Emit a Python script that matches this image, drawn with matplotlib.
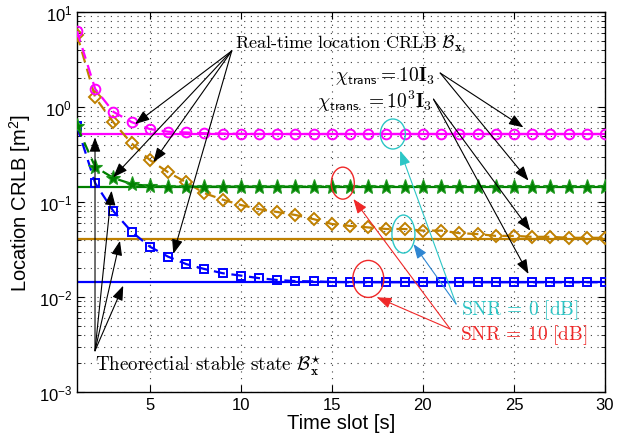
import numpy as np
import matplotlib
matplotlib.use("Agg")
import matplotlib.pyplot as plt
from matplotlib.patches import Ellipse
from matplotlib.transforms import ScaledTranslation

plt.rcParams["font.family"] = ["Liberation Sans", "DejaVu Sans"]
plt.rcParams["mathtext.fontset"] = "custom"
plt.rcParams["mathtext.rm"] = "Liberation Sans"
plt.rcParams["mathtext.it"] = "Liberation Sans:italic"
plt.rcParams["mathtext.bf"] = "Liberation Sans:bold"
plt.rcParams["mathtext.sf"] = "Liberation Sans"

# ---- data -------------------------------------------------------------
time_slot = np.arange(1, 31)

# chi_trans = 10 I_3, SNR = 0 dB
crlb_chi10_snr0 = [6.3, 1.55, 0.89, 0.695, 0.586, 0.55, 0.54, 0.53, 0.525, 0.522,
                   0.52, 0.52, 0.52, 0.52, 0.52, 0.52, 0.52, 0.52, 0.52, 0.52,
                   0.52, 0.52, 0.52, 0.52, 0.52, 0.52, 0.52, 0.52, 0.52, 0.52]
# chi_trans = 10^3 I_3, SNR = 0 dB
crlb_chi1000_snr0 = [5.8, 1.26, 0.69, 0.415, 0.277, 0.206, 0.161, 0.124, 0.106, 0.093,
                     0.084, 0.0785, 0.073, 0.066, 0.0587, 0.056, 0.054, 0.052, 0.052, 0.050,
                     0.050, 0.047, 0.046, 0.044, 0.044, 0.043, 0.043, 0.042, 0.042, 0.042]
# chi_trans = 10 I_3, SNR = 10 dB
crlb_chi10_snr10 = [0.63, 0.234, 0.179, 0.155, 0.147, 0.145, 0.145, 0.145, 0.145, 0.145,
                    0.145, 0.145, 0.145, 0.145, 0.145, 0.145, 0.145, 0.145, 0.145, 0.145,
                    0.145, 0.145, 0.145, 0.145, 0.145, 0.145, 0.145, 0.145, 0.145, 0.145]
# chi_trans = 10^3 I_3, SNR = 10 dB
crlb_chi1000_snr10 = [0.63, 0.158, 0.080, 0.0487, 0.0339, 0.0266, 0.0222, 0.0197, 0.0178, 0.0168,
                      0.0158, 0.0151, 0.0147, 0.0146, 0.0144, 0.0143, 0.0143, 0.0143, 0.0143, 0.0143,
                      0.0143, 0.0143, 0.0143, 0.0143, 0.0143, 0.0143, 0.0143, 0.0143, 0.0143, 0.0143]

# theoretical stable states
stable_chi10_snr0 = 0.52
stable_chi1000_snr0 = 0.041
stable_chi10_snr10 = 0.145
stable_chi1000_snr10 = 0.0143

x_ticks = [5, 10, 15, 20, 25, 30]
y_ticks = [1e-3, 1e-2, 1e-1, 1e0, 1e1]

# ---- colours ----------------------------------------------------------
c_mag = "#FF00FF"
c_brown = "#BF8000"
c_green = "#008000"
c_blue = "#0000FF"
c_cyan = "#2CC6C6"
c_steel = "#2F86D2"
c_red = "#F02828"

fig = plt.figure(figsize=(6.29, 4.35), dpi=100)
ax = fig.add_axes([0.1224, 0.0966, 0.8394, 0.8734])
ax.set_yscale("log")

dash = (0, (5, 3))
lw = 1.6

# theoretical stable-state lines
for val, col in [(stable_chi1000_snr10, c_blue), (stable_chi10_snr10, c_green),
                 (stable_chi1000_snr0, c_brown), (stable_chi10_snr0, c_mag)]:
    ax.plot([time_slot[0], time_slot[-1]], [val, val], color=col, lw=lw, zorder=2)

# real-time CRLB curves
ax.plot(time_slot, crlb_chi1000_snr10, linestyle=dash, color=c_blue, lw=lw,
        marker="s", ms=5.5, mfc="none", mec=c_blue, mew=1.4, zorder=3)
ax.plot(time_slot, crlb_chi10_snr10, linestyle=dash, color=c_green, lw=lw,
        marker="*", ms=11, mfc=c_green, mec="#1f9a1f", mew=0.8, zorder=4)
ax.plot(time_slot, crlb_chi1000_snr0, linestyle=dash, color=c_brown, lw=lw,
        marker="D", ms=6.2, mfc="none", mec=c_brown, mew=1.4, zorder=3)
ax.plot(time_slot, crlb_chi10_snr0, linestyle=dash, color=c_mag, lw=lw,
        marker="o", ms=7, mfc="none", mec=c_mag, mew=1.4, zorder=5)

ax.set_xlim(1, 30)
ax.set_ylim(1e-3, 1e1)
ax.set_xticks(x_ticks)
ax.set_yticks(y_ticks)
ax.tick_params(which="both", direction="in", top=True, right=True, labelsize=12)
ax.tick_params(which="major", length=5, width=0.8)
ax.tick_params(which="minor", length=3, width=0.6)
ax.tick_params(axis="x", which="minor", bottom=False, top=False)
for s in ax.spines.values():
    s.set_linewidth(1.0)

grid_ls = (0, (1, 5))
ax.grid(True, which="major", axis="x", color="0.25", linestyle=grid_ls, lw=0.8)
ax.grid(True, which="both", axis="y", color="0.25", linestyle=grid_ls, lw=0.8)
ax.set_axisbelow(True)

ax.set_xlabel("Time slot [s]", fontsize=14.5, labelpad=1)
ax.set_ylabel("Location CRLB [m$^2$]", fontsize=14.5, labelpad=4)

# ---- annotations ------------------------------------------------------
tkw = dict(fontfamily="cmr10", math_fontfamily="cm")


def arrow(tip, tail, color="k", lw=0.8):
    ax.annotate("", xy=tip, xytext=tail,
                arrowprops=dict(arrowstyle="-|>,head_length=0.8,head_width=0.3",
                                color=color, lw=lw, shrinkA=0, shrinkB=0,
                                mutation_scale=11), zorder=6)


ax.text(9.7, 4.6, r"Real-time location CRLB $\mathcal{B}_{\mathbf{x}_t}$",
        va="center", ha="left", fontsize=13, **tkw)
for tip in [(4.19, 0.662), (5.19, 0.262), (2.99, 0.182), (6.29, 0.0284)]:
    arrow(tip, (9.5, 3.9))

ax.text(2.0, 0.00195, r"Theorectial stable state $\mathcal{B}^{\star}_{\mathbf{x}}$",
        va="center", ha="left", fontsize=13.7, **tkw)
for tip in [(1.99, 0.48), (2.9, 0.1315), (3.36, 0.039), (3.54, 0.01315)]:
    arrow(tip, (1.99, 0.00272))

ax.text(20.67, 2.17, r"$\chi_{\mathsf{trans}} = 10\mathbf{I}_3$",
        va="center", ha="right", fontsize=14, **tkw)
ax.text(20.5, 1.185, r"$\chi_{\mathsf{trans.}} = 10^3\mathbf{I}_3$",
        va="center", ha="right", fontsize=14, **tkw)
for tip in [(25.52, 0.611), (25.8, 0.168)]:
    arrow(tip, (20.95, 2.28))
for tip in [(25.9, 0.0499), (25.8, 0.01746)]:
    arrow(tip, (20.58, 1.21))

ax.text(22.1, 0.0075, r"$\mathrm{SNR}\,=\,0\ [\mathrm{dB}]$", color=c_cyan,
        va="center", ha="left", fontsize=14, **tkw)
ax.text(22.04, 0.0041, r"$\mathrm{SNR}\,=\,10\ [\mathrm{dB}]$", color=c_red,
        va="center", ha="left", fontsize=14, **tkw)
arrow((18.75, 0.347), (21.82, 0.00844), color=c_cyan)
arrow((19.48, 0.0361), (21.82, 0.00844), color=c_steel)
arrow((16.18, 0.1076), (21.5, 0.0046), color=c_red)
arrow((17.47, 0.00993), (21.5, 0.0046), color=c_red)


def ring(x, y, w_px, h_px, color):
    trans = fig.dpi_scale_trans + ScaledTranslation(x, y, ax.transData)
    e = Ellipse((0, 0), w_px / fig.dpi, h_px / fig.dpi, transform=trans,
                fill=False, edgecolor=color, lw=1.0, zorder=6)
    ax.add_artist(e)


ring(18.35, 0.52, 25, 30, c_cyan)
ring(18.93, 0.046, 23, 38, c_cyan)
ring(15.6, 0.158, 23, 32, c_red)
ring(17.0, 0.0155, 31, 37, c_red)

fig.savefig("out.png", dpi=100)
